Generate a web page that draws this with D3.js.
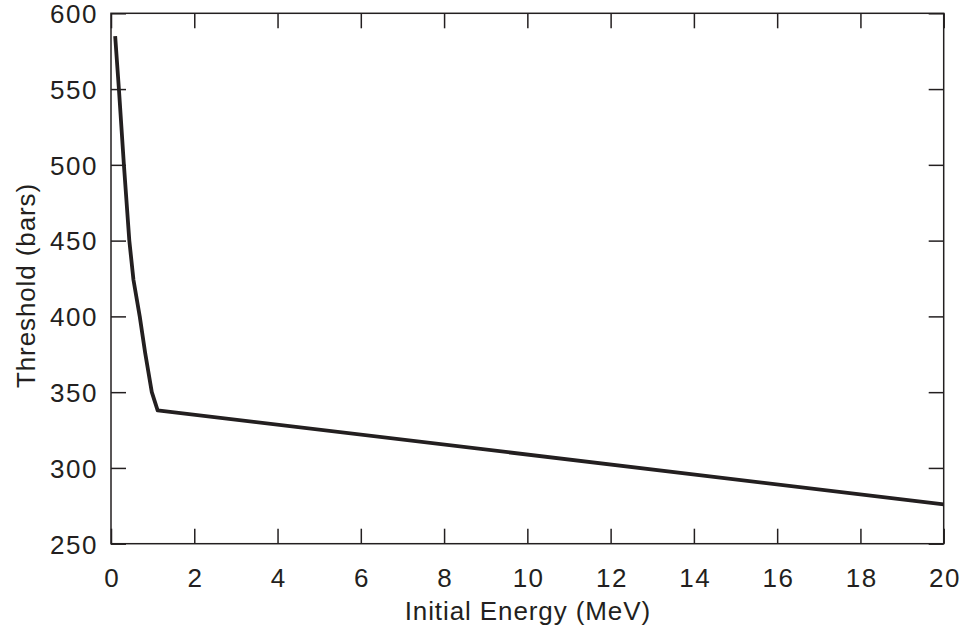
<!DOCTYPE html>
<html>
<head>
<meta charset="utf-8">
<script src="https://cdn.jsdelivr.net/npm/d3@7"></script>
<style>
  body { margin: 0; background: #fff; }
  text { font-family: "Liberation Sans", Arial, sans-serif; fill: #231f20; }
</style>
</head>
<body>
<svg></svg>
<script>
let energy = [0.1, 0.19, 0.31, 0.44, 0.54, 0.69, 0.82, 0.98, 1.12, 20];
let threshold = [585, 550, 500, 450, 424, 400, 376, 350, 338, 276];

let xTicks = [0, 2, 4, 6, 8, 10, 12, 14, 16, 18, 20];
let yTicks = [250, 300, 350, 400, 450, 500, 550, 600];

let xLabel = "Initial Energy (MeV)";
let yLabel = "Threshold (bars)";

let width = 964;
let height = 634;
let plotLeft = 111, plotRight = 943.7, plotTop = 13.3, plotBottom = 543.7;
let ink = "#231f20";

let svg = d3.select("svg").attr("width", width).attr("height", height);

let xScale = d3.scaleLinear().domain([0, 20]).range([plotLeft, plotRight]);
let yScale = d3.scaleLinear().domain([250, 600]).range([plotBottom, plotTop]);

let values = energy.map((e, i) => ({ e: e, t: threshold[i] }));

// frame
svg.append("rect")
  .attr("x", plotLeft).attr("y", plotTop)
  .attr("width", plotRight - plotLeft).attr("height", plotBottom - plotTop)
  .attr("fill", "none").attr("stroke", ink).attr("stroke-width", 1.5);

// inward ticks on all sides, labels on bottom and left
let tickLen = 15;
let styleAxis = (g, showText) => {
  g.select(".domain").remove();
  g.selectAll(".tick line").attr("stroke", ink).attr("stroke-width", 1.5);
  g.selectAll(".tick text")
    .style("font-size", "26px")
    .style("letter-spacing", "1.5px")
    .attr("fill", ink)
    .style("display", showText ? null : "none");
};

svg.append("g")
  .attr("transform", "translate(0," + plotBottom + ")")
  .call(d3.axisBottom(xScale).tickValues(xTicks).tickSizeInner(-tickLen).tickSizeOuter(0).tickPadding(25))
  .call(g => styleAxis(g, true))
  .selectAll(".tick text").attr("dx", "0.75px");

svg.append("g")
  .attr("transform", "translate(0," + plotTop + ")")
  .call(d3.axisTop(xScale).tickValues(xTicks).tickSizeInner(-tickLen).tickSizeOuter(0).tickFormat(""))
  .call(g => styleAxis(g, false));

svg.append("g")
  .attr("transform", "translate(" + plotLeft + ",0)")
  .call(d3.axisLeft(yScale).tickValues(yTicks).tickSizeInner(-tickLen).tickSizeOuter(0).tickPadding(13))
  .call(g => styleAxis(g, true))
  .selectAll(".tick text").attr("dy", "0.36em");

svg.append("g")
  .attr("transform", "translate(" + plotRight + ",0)")
  .call(d3.axisRight(yScale).tickValues(yTicks).tickSizeInner(-tickLen).tickSizeOuter(0).tickFormat(""))
  .call(g => styleAxis(g, false));

// curve
let line = d3.line()
  .x(d => xScale(d.e))
  .y(d => yScale(d.t));

svg.append("path")
  .datum(values)
  .attr("d", line)
  .attr("fill", "none")
  .attr("stroke", ink)
  .attr("stroke-width", 3.8)
  .attr("stroke-linejoin", "round");

// axis titles
svg.append("text")
  .attr("x", (plotLeft + plotRight) / 2 + 0.5)
  .attr("y", 620)
  .attr("text-anchor", "middle")
  .style("font-size", "26px")
  .style("letter-spacing", "0.9px")
  .text(xLabel);

svg.append("text")
  .attr("transform", "translate(34.5,285.5) rotate(-90)")
  .attr("text-anchor", "middle")
  .style("font-size", "26px")
  .style("letter-spacing", "0.9px")
  .text(yLabel);
</script>
</body>
</html>
